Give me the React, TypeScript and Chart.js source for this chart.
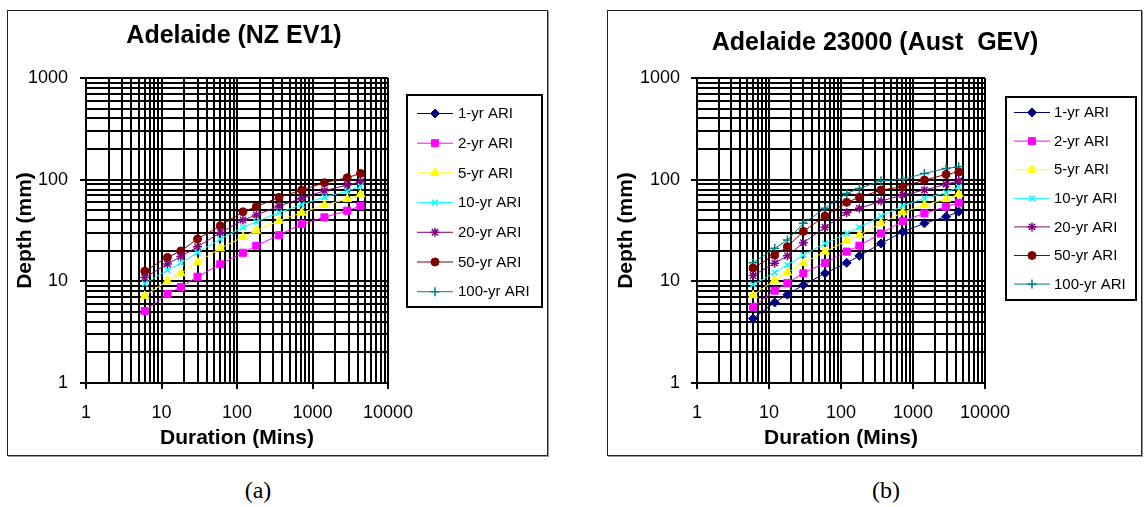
import React, { useEffect, useRef } from 'react';
import { Chart, registerables } from 'chart.js';
import { drawPoint } from 'chart.js/helpers';

Chart.register(...registerables);

const FONT = "'Liberation Sans', Arial, Helvetica, sans-serif";

// Storm durations (minutes)
const durations = [6, 12, 18, 30, 60, 120, 180, 360, 720, 1440, 2880, 4320];

const seriesNames = ['1-yr ARI', '2-yr ARI', '5-yr ARI', '10-yr ARI', '20-yr ARI', '50-yr ARI', '100-yr ARI'];

// Adelaide, NZ EV1 depths (mm)
const nz1yr: number[] = [];
const nz2yr = [5.1, 7.5, 8.8, 11.1, 14.7, 19.1, 22.4, 28.5, 36.6, 42.6, 49.5, 55.0];
const nz5yr = [7.2, 10.1, 12.0, 15.4, 21.1, 27.3, 31.5, 39.4, 47.3, 56.3, 64.5, 71.7];
const nz10yr = [9.5, 12.9, 15.1, 19.2, 26.0, 34.0, 38.5, 47.5, 56.8, 67.5, 77.0, 86.0];
const nz20yr = [10.9, 14.8, 17.5, 21.9, 30.1, 40.1, 44.9, 55.0, 65.5, 77.8, 88.5, 95.3];
const nz50yr = [12.6, 17.2, 19.9, 26.1, 35.2, 48.3, 54.2, 67.0, 79.1, 93.3, 104.4, 115.3];
const nz100yr: number[] = [];

// Adelaide 23000, Australian GEV depths (mm)
const au1yr = [4.3, 6.2, 7.4, 9.2, 12.0, 15.2, 17.8, 23.6, 30.7, 37.2, 43.2, 48.4];
const au2yr = [5.6, 8.1, 9.6, 12.0, 15.2, 19.6, 22.4, 29.6, 39.2, 46.6, 54.2, 59.3];
const au5yr = [7.3, 10.3, 12.2, 15.1, 19.6, 25.0, 28.5, 37.2, 47.7, 56.3, 64.5, 72.2];
const au10yr = [9.3, 12.2, 14.5, 18.1, 23.6, 29.6, 34.0, 43.9, 55.4, 65.5, 74.4, 85.1];
const au20yr = [11.4, 15.1, 17.8, 24.0, 34.0, 47.3, 52.2, 61.6, 70.6, 79.1, 90.0, 97.5];
const au50yr = [13.5, 18.1, 21.9, 31.0, 43.9, 59.8, 67.0, 79.1, 85.2, 99.1, 112.7, 118.8];
const au100yr = [15.2, 21.1, 25.5, 37.2, 52.2, 73.3, 82.1, 97.5, 100.7, 115.3, 129.1, 134.0];

// Axis decades that carry labels
const xMajorTicks = [1, 10, 100, 1000, 10000];
const yMajorTicks = [1, 10, 100, 1000];

// Series appearance
const seriesColors = ['#000080', '#FF00FF', '#FFFF00', '#00FFFF', '#800080', '#800000', '#008080'];
const markerStyles = ['rectRot', 'rect', 'triangle', 'crossRot', 'star', 'circle', 'cross'];
const markerRadii = [4.5, 5, 5, 4, 4.5, 4, 4.5];
const markerBorders = [1, 1, 1, 1.5, 1.5, 1, 1.5];

function logGrid(max: number): number[] {
  const out: number[] = [];
  for (let p = 1; p < max; p *= 10) {
    for (let k = 1; k <= 9; k++) out.push(k * p);
  }
  out.push(max);
  return out;
}

type Panel = {
  title: string;
  titleX: number;
  titleY: number;
  box: { left: number; top: number; width: number; height: number };
  area: { left: number; top: number; right: number; bottom: number };
  yLabelPad: number;
  yTitlePad: number;
  legend: { x: number; y: number; w: number; h: number; firstRow: number; rowGap: number; lineX1: number; lineX2: number; markerX: number; textX: number };
  series: number[][];
};

const panels: Panel[] = [
  {
    title: 'Adelaide (NZ EV1)',
    titleX: 226,
    titleY: 32,
    box: { left: 7, top: 10, width: 541, height: 446 },
    area: { left: 78, top: 67, right: 380, bottom: 372 },
    yLabelPad: 12,
    yTitlePad: 4.4,
    legend: { x: 399, y: 84, w: 135, h: 212, firstRow: 102, rowGap: 29.7, lineX1: 409, lineX2: 445, markerX: 427, textX: 450 },
    series: [nz1yr, nz2yr, nz5yr, nz10yr, nz20yr, nz50yr, nz100yr],
  },
  {
    title: 'Adelaide 23000 (Aust  GEV)',
    titleX: 267,
    titleY: 39,
    box: { left: 607, top: 10, width: 535, height: 446 },
    area: { left: 89, top: 67, right: 377, bottom: 372 },
    yLabelPad: 11,
    yTitlePad: 5.4,
    legend: { x: 398, y: 86, w: 130, h: 203, firstRow: 101, rowGap: 28.6, lineX1: 406, lineX2: 442, markerX: 424, textX: 446 },
    series: [au1yr, au2yr, au5yr, au10yr, au20yr, au50yr, au100yr],
  },
];

function decorPlugin(p: Panel) {
  return {
    id: 'panelDecor',
    afterDraw(chart: any) {
      const ctx: CanvasRenderingContext2D = chart.ctx;
      ctx.save();
      // chart title
      ctx.fillStyle = '#000';
      ctx.font = `bold 25px ${FONT}`;
      ctx.textAlign = 'center';
      ctx.textBaseline = 'alphabetic';
      ctx.fillText(p.title, p.titleX, p.titleY);

      // legend box
      const L = p.legend;
      ctx.fillStyle = '#fff';
      ctx.fillRect(L.x, L.y, L.w, L.h);
      ctx.strokeStyle = '#000';
      ctx.lineWidth = 2;
      ctx.strokeRect(L.x, L.y, L.w, L.h);

      ctx.font = `15px ${FONT}`;
      ctx.textAlign = 'left';
      ctx.textBaseline = 'middle';
      chart.data.datasets.forEach((ds: any, i: number) => {
        const y = L.firstRow + i * L.rowGap;
        ctx.strokeStyle = ds.borderColor;
        ctx.lineWidth = 1;
        ctx.beginPath();
        ctx.moveTo(L.lineX1, y + 0.5);
        ctx.lineTo(L.lineX2, y + 0.5);
        ctx.stroke();
        ctx.fillStyle = ds.pointBackgroundColor;
        ctx.strokeStyle = ds.pointBorderColor;
        ctx.lineWidth = ds.pointBorderWidth;
        drawPoint(ctx, { pointStyle: ds.pointStyle, rotation: 0, radius: ds.pointRadius, borderWidth: ds.pointBorderWidth }, L.markerX, y + 0.5);
        ctx.fillStyle = '#000';
        ctx.fillText(ds.label, L.textX, y + 1);
      });
      ctx.restore();
    },
  };
}

function PanelChart({ p }: { p: Panel }) {
  const ref = useRef<HTMLCanvasElement>(null);
  const cw = p.box.width - 2;
  const ch = p.box.height - 2;

  useEffect(() => {
    if (!ref.current) return;
    const xGrid = logGrid(10000);
    const yGrid = logGrid(1000);
    const majorTickColor = (majors: number[]) => (c: any) =>
      c.tick && majors.includes(c.tick.value) ? '#000' : 'rgba(0,0,0,0)';

    const chart = new Chart(ref.current, {
      type: 'line',
      data: {
        datasets: seriesNames.map((name, i) => ({
          label: name,
          data: p.series[i].map((v, j) => ({ x: durations[j], y: v })),
          borderColor: seriesColors[i],
          backgroundColor: seriesColors[i],
          pointBackgroundColor: seriesColors[i],
          pointBorderColor: seriesColors[i],
          borderWidth: 1,
          pointStyle: markerStyles[i] as any,
          pointRadius: markerRadii[i],
          pointBorderWidth: markerBorders[i],
          tension: 0,
          fill: false,
        })),
      },
      options: {
        responsive: false,
        animation: false,
        devicePixelRatio: 1,
        events: [],
        layout: { padding: { left: 0, top: p.area.top, right: cw - p.area.right, bottom: 0 } },
        plugins: {
          legend: { display: false },
          title: { display: false },
          tooltip: { enabled: false },
        },
        scales: {
          x: {
            type: 'logarithmic',
            position: 'bottom',
            min: 1,
            max: 10000,
            afterBuildTicks: (s: any) => {
              s.ticks = xGrid.map((v) => ({ value: v, major: xMajorTicks.includes(v) }));
            },
            afterFit: (s: any) => {
              s.height = ch - p.area.bottom;
            },
            ticks: {
              autoSkip: false,
              maxRotation: 0,
              minRotation: 0,
              padding: 13.5,
              color: '#000',
              font: { family: FONT, size: 18 },
              callback: (v: any) => (xMajorTicks.includes(Number(v)) ? String(v) : ''),
            },
            grid: { color: '#000', lineWidth: 2, drawTicks: true, tickLength: 6, tickWidth: 2, tickColor: majorTickColor(xMajorTicks) },
            border: { display: true, color: '#000', width: 2 },
            title: {
              display: true,
              text: 'Duration (Mins)',
              color: '#000',
              font: { family: FONT, size: 21, weight: 'bold' },
              padding: { top: 0, bottom: 4.4 },
            },
          },
          y: {
            type: 'logarithmic',
            position: 'left',
            min: 1,
            max: 1000,
            afterBuildTicks: (s: any) => {
              s.ticks = yGrid.map((v) => ({ value: v, major: yMajorTicks.includes(v) }));
            },
            afterFit: (s: any) => {
              s.width = p.area.left;
            },
            ticks: {
              autoSkip: false,
              padding: p.yLabelPad,
              color: '#000',
              font: { family: FONT, size: 18 },
              callback: (v: any) => (yMajorTicks.includes(Number(v)) ? String(v) : ''),
            },
            grid: { color: '#000', lineWidth: 2, drawTicks: true, tickLength: 6, tickWidth: 2, tickColor: majorTickColor(yMajorTicks) },
            border: { display: true, color: '#000', width: 2 },
            title: {
              display: true,
              text: 'Depth (mm)',
              color: '#000',
              font: { family: FONT, size: 21, weight: 'bold' },
              padding: { top: p.yTitlePad, bottom: 0 },
            },
          },
        },
      } as any,
      plugins: [decorPlugin(p)],
    });
    return () => chart.destroy();
  }, [p]);

  return (
    <div
      style={{
        position: 'absolute',
        left: p.box.left,
        top: p.box.top,
        width: p.box.width,
        height: p.box.height,
        boxSizing: 'border-box',
        border: '1px solid #222',
        boxShadow: '1px 1px 0 #999',
        background: '#fff',
      }}
    >
      <canvas ref={ref} width={cw} height={ch} style={{ display: 'block', width: cw, height: ch }} />
    </div>
  );
}

const captionStyle: React.CSSProperties = {
  position: 'absolute',
  top: 476,
  width: 60,
  textAlign: 'center',
  font: "24px 'Liberation Serif', 'Times New Roman', serif",
  lineHeight: '28px',
  color: '#000',
};

export default function App() {
  return (
    <div style={{ position: 'absolute', left: 0, top: 0, width: 1147, height: 507, overflow: 'hidden', background: '#fff' }}>
      {panels.map((p, i) => (
        <PanelChart key={i} p={p} />
      ))}
      <div style={{ ...captionStyle, left: 258 - 30 }}>(a)</div>
      <div style={{ ...captionStyle, left: 886 - 30 }}>(b)</div>
    </div>
  );
}
